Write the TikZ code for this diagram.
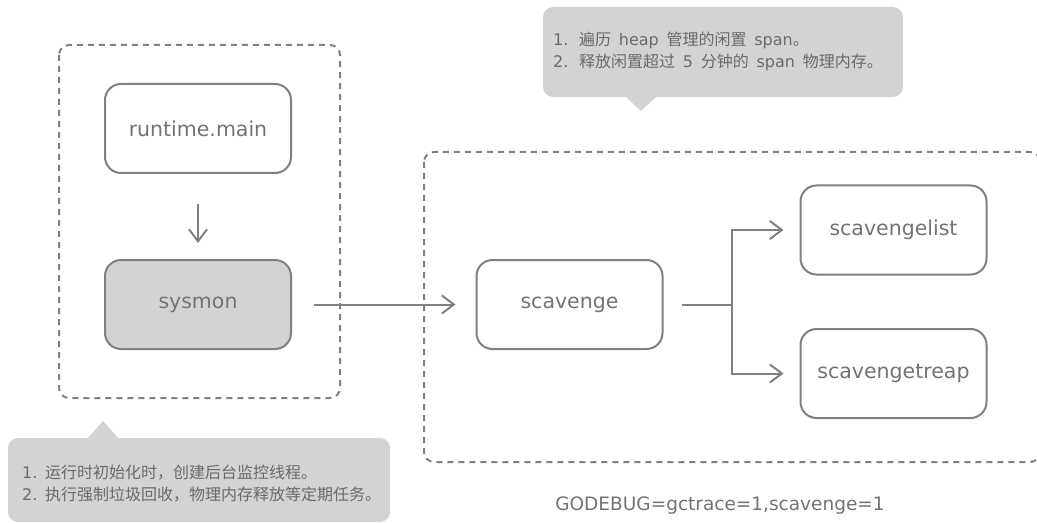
\documentclass[tikz,border=0pt]{standalone}
\usepackage{fontspec}
\setmainfont{DejaVu Sans}
\newfontfamily\cjk{Noto Sans CJK SC}
\usetikzlibrary{arrows.meta}
\definecolor{linegray}{HTML}{808080}
\definecolor{fillgray}{HTML}{D3D3D3}
\definecolor{txtgray}{HTML}{737373}
\definecolor{notegray}{HTML}{6A6A6A}
\newcommand{\numlbl}[2]{\makebox[#1][l]{#2}}
\begin{document}
\begin{tikzpicture}[x=1pt,y=-1pt,
  box/.style={draw=linegray, line width=2pt, rounded corners=16pt,
    minimum width=186pt, minimum height=89pt, inner sep=0pt,
    font=\fontsize{20.5}{24}\selectfont, text=txtgray},
  grp/.style={draw=linegray, line width=2pt, dash pattern=on 6pt off 5pt, rounded corners=10pt},
  conn/.style={draw=linegray, line width=2pt},
  arr/.style={conn, -{Straight Barb[length=12pt,width=18pt,line width=2pt]}},
  note/.style={font=\fontsize{16}{22}\selectfont, text=notegray, align=left,
    inner sep=0pt, anchor=west},
  plain/.style={font=\fontsize{18.5}{22}\selectfont, text=txtgray, inner sep=0pt}]
\useasboundingbox (0,0) rectangle (1037,524);

% group frames
\draw[grp] (59,45) rectangle (340,398);
\draw[grp] (424,152) rectangle (1040,462);

% callouts
\fill[fillgray, rounded corners=10pt] (543,7) rectangle (903,97);
\fill[fillgray] (625,96) -- (657,96) -- (641,111) -- cycle;
\fill[fillgray, rounded corners=10pt] (8,438) rectangle (390,522);
\fill[fillgray] (87,439) -- (119,439) -- (103,421) -- cycle;

\node[note] (topnote) at (553,51) {\numlbl{26pt}{1.}{\cjk 遍历}\, heap\, {\cjk 管理的闲置}\, span{\cjk 。}\\
  \numlbl{26pt}{2.}{\cjk 释放闲置超过}\, 5\, {\cjk 分钟的}\, span\, {\cjk 物理内存。}};
\node[note] (botnote) at (22,484) {\numlbl{23pt}{1.}{\cjk 运行时初始化时，创建后台监控线程。}\\
  \numlbl{23pt}{2.}{\cjk 执行强制垃圾回收，物理内存释放等定期任务。}};

% boxes
\node[box] (rt) at (198,128.5) {runtime.main};
\node[box, fill=fillgray] (sys) at (198,304.5) {sysmon};
\node[box] (sc) at (569.5,304.5) {scavenge};
\node[box] (sl) at (893.5,230) {scavengelist};
\node[box] (st) at (893.5,373.5) {scavengetreap};

\node[plain] (env) at (720,506) {GODEBUG=gctrace=1,scavenge=1};

% connectors
\draw[arr, shorten <=30pt, shorten >=16pt] (rt.south) -- (sys.north);
\draw[arr, shorten <=22pt, shorten >=20pt] (sys.east) -- (sc.west);
\coordinate (br) at (732,304.5);
\draw[conn, shorten <=18pt] (sc.east) -- (br);
\draw[arr, shorten >=16pt] (br) |- (sl.west);
\draw[arr, shorten >=16pt] (br) |- (st.west);
\end{tikzpicture}
\end{document}
